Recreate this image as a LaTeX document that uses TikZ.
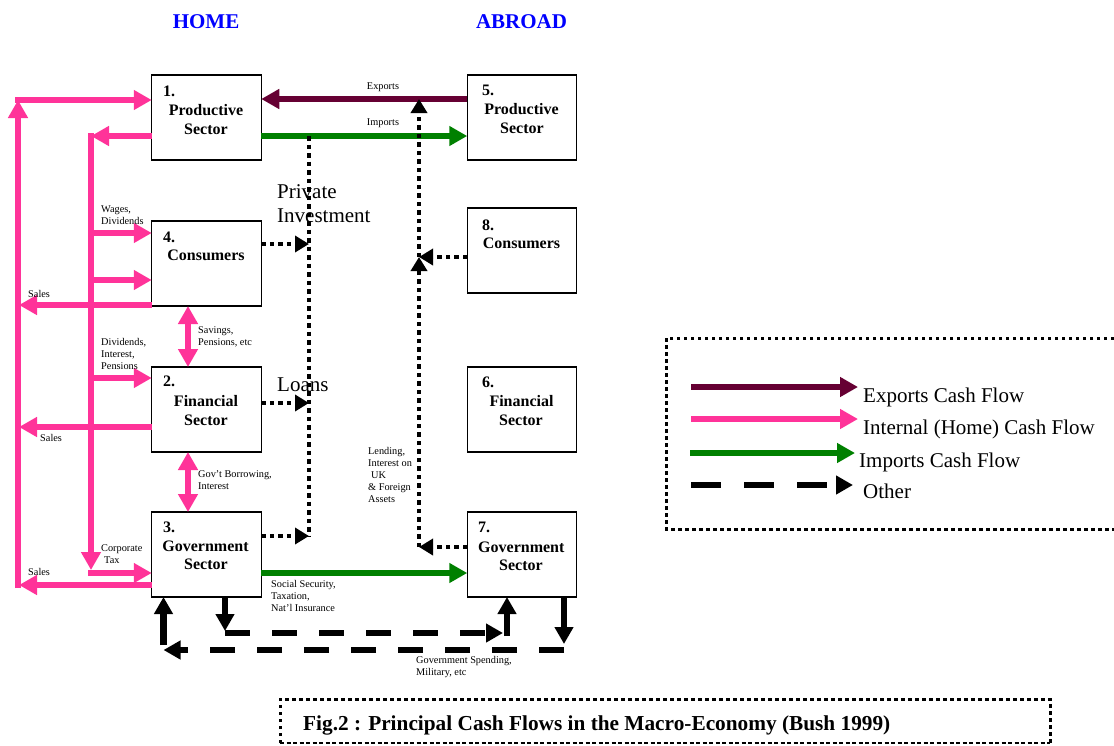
\documentclass[tikz,border=0pt]{standalone}
\usepackage{fontspec}
\setmainfont{Liberation Serif}
\usetikzlibrary{arrows.meta,calc}
\definecolor{flowpink}{HTML}{FF3399}
\definecolor{flowmaroon}{HTML}{660033}
\definecolor{flowgreen}{HTML}{008000}
\definecolor{headblue}{HTML}{0000FF}
\tikzset{
  BigTip/.tip={Triangle[length=18pt,width=19pt]},
  DotTip/.tip={Triangle[length=14pt,width=16pt]},
  OtherTip/.tip={Triangle[length=17pt,width=18pt]},
}
\begin{document}
\begin{tikzpicture}[x=1pt,y=-1pt,
  sector/.style={draw, line width=1.4pt, fill=white, minimum width=109.5pt,
    minimum height=85pt, inner sep=0pt, outer sep=0pt},
  cashflow/.style={line width=6pt, -BigTip},
  pinkflow/.style={cashflow, draw=flowpink},
  pinkboth/.style={line width=6pt, BigTip-BigTip, draw=flowpink},
  exportflow/.style={cashflow, draw=flowmaroon},
  importflow/.style={cashflow, draw=flowgreen},
  dotline/.style={line width=4.5pt, dash pattern=on 4.5pt off 4pt},
  dotflow/.style={dotline, -DotTip},
  otherflow/.style={line width=6.5pt, dash pattern=on 25pt off 22pt, -OtherTip},
  othersolid/.style={line width=6.5pt, -OtherTip},
  legendother/.style={otherflow, dash pattern=on 30pt off 23pt},
  sectorlabel/.style={font=\fontsize{16}{19}\selectfont\bfseries, inner sep=0pt, anchor=base},
  sectornum/.style={sectorlabel, anchor=base west},
  note/.style={font=\fontsize{10.3}{12}\selectfont, inner sep=0pt, anchor=base west, align=left},
  bigtext/.style={font=\fontsize{21}{24}\selectfont, inner sep=0pt, anchor=base west, align=left},
  header/.style={font=\fontsize{21}{24}\selectfont\bfseries, text=headblue, inner sep=0pt, anchor=base},
  framedots/.style={line width=3pt, dash pattern=on 3.5pt off 3.5pt},
]
\useasboundingbox (0,0) rectangle (1114,745);

% headings
\node[header] (home) at (206,28) {HOME};
\node[header] (abroad) at (521.5,28) {ABROAD};

% sector boxes
\node[sector] (b1) at (206.5,117.5) {};
\node[sector] (b4) at (206.5,263.5) {};
\node[sector] (b2) at (206.5,409.5) {};
\node[sector] (b3) at (206.5,554.5) {};
\node[sector] (b5) at (522,117.5) {};
\node[sector] (b8) at (522,250.5) {};
\node[sector] (b6) at (522,409.5) {};
\node[sector] (b7) at (522,554.5) {};

% box texts
\node[sectornum] at (163,96) {1.};
\node[sectorlabel] at (206,115) {Productive};
\node[sectorlabel] at (206,134) {Sector};
\node[sectornum] at (163,242) {4.};
\node[sectorlabel] at (206,260) {Consumers};
\node[sectornum] at (163,386) {2.};
\node[sectorlabel] at (206,406) {Financial};
\node[sectorlabel] at (206,425) {Sector};
\node[sectornum] at (163,532) {3.};
\node[sectorlabel] at (205.5,551) {Government};
\node[sectorlabel] at (206,569) {Sector};
\node[sectornum] at (482,95) {5.};
\node[sectorlabel] at (521.5,114) {Productive};
\node[sectorlabel] at (522,133) {Sector};
\node[sectornum] at (482,230) {8.};
\node[sectorlabel] at (521.5,248) {Consumers};
\node[sectornum] at (482,387) {6.};
\node[sectorlabel] at (521.5,406) {Financial};
\node[sectorlabel] at (521,425) {Sector};
\node[sectornum] at (478,532) {7.};
\node[sectorlabel] at (521.3,552) {Government};
\node[sectorlabel] at (521,570) {Sector};

% rails and levels
\coordinate (railA) at (18,0);
\coordinate (railB) at (91,0);
\coordinate (invest) at (309,0);
\coordinate (lend) at (419,0);
\coordinate (loopA) at (0,633);
\coordinate (loopB) at (0,650);

% ports on the boxes
\path ($(b1.north west)+(0,25)$) coordinate (b1a)
      ($(b1.north west)+(0,61)$) coordinate (b1b)
      ($(b1.north east)+(0,24)$) coordinate (b1c)
      ($(b1.north east)+(0,61)$) coordinate (b1d)
      ($(b5.north west)+(0,24)$) coordinate (b5a)
      ($(b5.north west)+(0,61)$) coordinate (b5b)
      ($(b4.north west)+(0,12)$) coordinate (b4a)
      ($(b4.north west)+(0,59)$) coordinate (b4b)
      ($(b4.north west)+(0,84)$) coordinate (b4c)
      ($(b4.north east)+(0,23)$) coordinate (b4d)
      ($(b2.north west)+(0,11)$) coordinate (b2a)
      ($(b2.north west)+(0,60)$) coordinate (b2b)
      ($(b2.north east)+(0,36)$) coordinate (b2c)
      ($(b3.north west)+(0,61)$) coordinate (b3a)
      ($(b3.north west)+(0,73)$) coordinate (b3b)
      ($(b3.north east)+(0,24)$) coordinate (b3c)
      ($(b3.north east)+(0,61)$) coordinate (b3d)
      ($(b8.north west)+(0,49)$) coordinate (b8a)
      ($(b7.north west)+(0,35)$) coordinate (b7a)
      ($(b7.north west)+(0,61)$) coordinate (b7b)
      ($(b3.south west)+(73.25,0)$) coordinate (b3dn)
      ($(b3.south west)+(11.75,0)$) coordinate (b3up)
      ($(b7.south west)+(39.75,0)$) coordinate (b7up)
      ($(b7.south west)+(96.75,0)$) coordinate (b7dn)
      ($(b4.south west)+(36.25,0)$) coordinate (b4s)
      ($(b2.north west)+(36.25,0)$) coordinate (b2n)
      ($(b2.south west)+(36.25,0)$) coordinate (b2s)
      ($(b3.north west)+(36.25,0)$) coordinate (b3n);

% internal (home) flows
\draw[pinkflow, shorten <=-3pt] (railA |- b3b) -- (railA |- b1a);
\draw[pinkflow, shorten <=-3pt] (railA |- b1a) -- (b1a);
\draw[pinkflow] (b1b) -- (railB |- b1b);
\draw[pinkflow, shorten <=-3pt, shorten >=3pt] (railB |- b1b) -- (railB |- b3a);
\draw[pinkflow] (railB |- b4a) -- (b4a);
\draw[pinkflow] (railB |- b4b) -- (b4b);
\draw[pinkflow] (railB |- b2a) -- (b2a);
\draw[pinkflow, shorten <=-3pt] (railB |- b3a) -- (b3a);
\draw[pinkflow, shorten >=1pt] (b4c) -- (railA |- b4c);
\draw[pinkflow, shorten >=1pt] (b2b) -- (railA |- b2b);
\draw[pinkflow, shorten >=1pt] (b3b) -- (railA |- b3b);
\draw[pinkboth] (b4s) -- (b2n);
\draw[pinkboth] (b2s) -- (b3n);

% foreign trade flows
\draw[exportflow] (b5a) -- (b1c);
\draw[importflow] (b1d) -- (b5b);
\draw[importflow] (b3d) -- (b7b);

% investment and lending
\draw[dotline] (invest |- b1d) -- (invest |- b3c);
\draw[dotflow] (b4d) -- (invest |- b4d);
\draw[dotflow] (b2c) -- (invest |- b2c);
\draw[dotflow] (b3c) -- (invest |- b3c);
\draw[dotflow] (lend |- b7a) -- (lend |- b8a);
\draw[dotflow] (lend |- b8a) -- (lend |- b1c);
\draw[dotflow] (b8a) -- (lend |- b8a);
\draw[dotflow] (b7a) -- (lend |- b7a);

% government loops
\draw[othersolid, shorten >=2pt] (b3dn) -- (b3dn |- loopA);
\draw[otherflow, shorten >=4pt] (b3dn |- loopA) -- (b7up |- loopA);
\draw[othersolid, shorten <=-3pt] (b7up |- loopA) -- (b7up);
\draw[othersolid, shorten >=6pt] (b7dn) -- (b7dn |- loopB);
\draw[otherflow] (b7dn |- loopB) -- (b3up |- loopB);
\draw[othersolid, shorten <=5pt] (b3up |- loopB) -- (b3up);

% flow labels (multi-line labels are placed by the baseline of their last line)
\node[note, anchor=base] at (383,89) {Exports};
\node[note, anchor=base] at (383,125) {Imports};
\node[note] at (101,224) {Wages,\\Dividends};
\node[note] at (28,297) {Sales};
\node[note] at (198,345) {Savings,\\Pensions, etc};
\node[note] at (101,369) {Dividends,\\Interest,\\Pensions};
\node[note] at (40,441) {Sales};
\node[note] at (198,489) {Gov’t Borrowing,\\Interest};
\node[note] at (101,563) {Corporate\\\hspace*{3pt}Tax};
\node[note] at (28,575) {Sales};
\node[note] at (368,502) {Lending,\\Interest on\\\hspace*{3pt}UK\\\& Foreign\\Assets};
\node[note] at (271,611) {Social Security,\\Taxation,\\Nat’l Insurance};
\node[note] at (416,675) {Government Spending,\\Military, etc};
\node[bigtext] at (277,222) {Private\\Investment};
\node[bigtext] at (277,391) {Loans};

% legend
\draw[framedots] (1114,338) -- (666,338) -- (666,529) -- (1114,529);
\coordinate (lg1) at (691,387); \coordinate (lg1e) at (858,387);
\coordinate (lg2) at (691,419); \coordinate (lg2e) at (858,419);
\coordinate (lg3) at (690,453); \coordinate (lg3e) at (855,453);
\coordinate (lg4) at (691,485); \coordinate (lg4e) at (853,485);
\draw[exportflow] (lg1) -- (lg1e);
\draw[pinkflow] (lg2) -- (lg2e);
\draw[importflow] (lg3) -- (lg3e);
\draw[legendother] (lg4) -- (lg4e);
\node[bigtext] at (863,402) {Exports Cash Flow};
\node[bigtext] at (863,434) {Internal (Home) Cash Flow};
\node[bigtext] at (859,467) {Imports Cash Flow};
\node[bigtext] at (863,498) {Other};

% caption
\draw[framedots] (280,743) -- (280,699) -- (1050,699) -- (1050,743);
\draw[line width=1.5pt, dash pattern=on 4pt off 2.5pt] (280,743) -- (1050,743);
\node[bigtext, font=\fontsize{21.3}{24}\selectfont\bfseries] (caption) at (303,730)
  {Fig.2 : Principal Cash Flows in the Macro-Economy (Bush 1999)};
\end{tikzpicture}
\end{document}
